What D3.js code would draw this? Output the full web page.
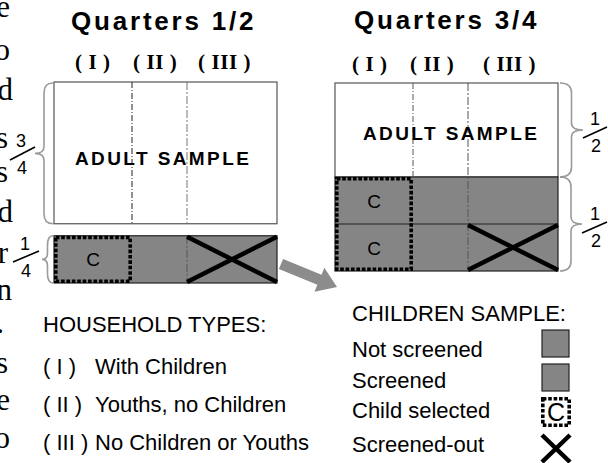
<!DOCTYPE html>
<html><head><meta charset="utf-8">
<script src="https://cdn.jsdelivr.net/npm/d3@7"></script>
<style>
html,body{margin:0;padding:0;background:#fff;}
svg{display:block;}
</style></head>
<body><svg id="c" width="608" height="463"></svg>
<script>
// ---------- data ----------
const titles = ["Quarters 1/2", "Quarters 3/4"];
const householdTypes = ["( I )", "( II )", "( III )"];
const colWeights = [78, 55, 90];                 // relative column widths (I, II, III)
const leftShares = [3/4, 1/4];                   // adult / children sample, quarters 1/2
const rightShares = [1/2, 1/2];                  // adult / children sample, quarters 3/4
const leftFractions = [["3","4"], ["1","4"]];
const rightFractions = [["1","2"], ["1","2"]];
const adultLabel = "ADULT SAMPLE";
const childMark = "C";
const householdTitle = "HOUSEHOLD TYPES:";
const householdLabels = ["With Children", "Youths, no Children", "No Children or Youths"];
const childrenTitle = "CHILDREN SAMPLE:";
const childrenLabels = ["Not screened", "Screened", "Child selected", "Screened-out"];
const marginLetters = ["e","o","d","s","s","d","r","n",".","s","e","o"];

// ---------- style ----------
const GRAY = "#858585", BRACE = "#9a9a9a";
const SANS = "'Liberation Sans', Arial, sans-serif";
const SERIF = "'Liberation Serif', 'Times New Roman', serif";
const svg = d3.select("#c");

// margin text fragments (clipped paragraph on the left, as in the reference)
const marginY = [17, 60, 100, 148, 182, 222, 263, 300, 333, 373, 410, 448];
const marginX = [10, 10, 13, 8, 8, 13, 8, 12, 4, 8, 10, 10];
svg.append("g").selectAll("text").data(marginLetters).join("text")
  .attr("x", (d,i)=>marginX[i]).attr("y", (d,i)=>marginY[i])
  .attr("text-anchor","end").attr("font-family",SERIF).attr("font-size",31).attr("fill","#000")
  .text(d=>d);

// ---------- helpers ----------
const total = d3.sum(colWeights);
const cum = [0]; colWeights.forEach(w=>cum.push(cum[cum.length-1]+w));

function brace(g, x, y0, y1, w, dir){
  const xs = x + dir*w*0.5, xt = x + dir*w, ym = (y0+y1)/2, r = Math.min(10,(y1-y0)/5);
  const p = d3.path();
  p.moveTo(x, y0);
  p.quadraticCurveTo(xs, y0, xs, y0+r);
  p.lineTo(xs, ym-r*0.7);
  p.quadraticCurveTo(xs, ym, xt, ym);
  p.quadraticCurveTo(xs, ym, xs, ym+r*0.7);
  p.lineTo(xs, y1-r);
  p.quadraticCurveTo(xs, y1, x, y1);
  g.append("path").attr("d", p.toString()).attr("fill","none").attr("stroke",BRACE).attr("stroke-width",1.6);
}
function fraction(g, f, cx, yNum, slash){
  g.append("text").attr("x",cx).attr("y",yNum).attr("text-anchor","middle")
    .attr("font-family",SANS).attr("font-size",18).text(f[0]);
  g.append("text").attr("x",cx+1).attr("y",yNum+27).attr("text-anchor","middle")
    .attr("font-family",SANS).attr("font-size",18).text(f[1]);
  g.append("line").attr("x1",slash[0]).attr("y1",slash[1]).attr("x2",slash[2]).attr("y2",slash[3])
    .attr("stroke","#000").attr("stroke-width",1.6);
}
function divider(g, x, y0, y1, col, dash){
  g.append("line").attr("x1",x).attr("x2",x).attr("y1",y0).attr("y2",y1)
    .attr("stroke",col).attr("stroke-width",1).attr("stroke-dasharray",dash);
}
function cross(g, x0, y0, x1, y1, sw){
  g.append("line").attr("x1",x0).attr("y1",y0).attr("x2",x1).attr("y2",y1).attr("stroke","#000").attr("stroke-width",sw);
  g.append("line").attr("x1",x0).attr("y1",y1).attr("x2",x1).attr("y2",y0).attr("stroke","#000").attr("stroke-width",sw);
}
function dashedBox(g, x0, y0, x1, y1){
  g.append("rect").attr("x",x0+1.8).attr("y",y0+1.8).attr("width",x1-x0-3.6).attr("height",y1-y0-3.6)
    .attr("fill","none").attr("stroke","#000").attr("stroke-width",3.6).attr("stroke-dasharray","3.6,1.8");
}
function titleAndTypes(g, title, tx, ty, typeX, typeY){
  g.append("text").attr("x",tx).attr("y",ty).attr("font-family",SANS).attr("font-weight","bold")
    .attr("font-size",26).attr("letter-spacing",2.8).attr("fill","#000").text(title);
  g.selectAll("text.ht").data(householdTypes).join("text").attr("class","ht")
    .attr("x",(d,i)=>typeX[i]).attr("y",typeY).attr("font-family",SERIF).attr("font-weight","bold")
    .attr("font-size",21).attr("letter-spacing",0.6).attr("fill","#000")
    .style("white-space","pre").text(d=>d);
}

// ---------- Quarters 1/2 ----------
{
  const g = svg.append("g");
  const x = d3.scaleLinear().domain([0,total]).range([54,277]);
  const y = d3.scaleLinear().domain([0,1]).range([82,271]);
  const gap = 12;
  titleAndTypes(g, titles[0], 71, 30, [75,133,198], 69);
  const aTop = y(0), aBot = y(leftShares[0]);
  const cTop = aBot + gap, cBot = y(leftShares[0]+leftShares[1]) + gap;
  g.append("rect").attr("x",x(0)).attr("y",aTop).attr("width",x(total)-x(0)).attr("height",aBot-aTop)
    .attr("fill","#fff").attr("stroke","#555").attr("stroke-width",1.2);
  divider(g, x(cum[1]), aTop, aBot, "#222", "6,2,1,2");
  divider(g, x(cum[2]), aTop, aBot, "#777", "8,2,2,2");
  g.append("text").attr("x",75).attr("y",165).attr("font-family",SANS).attr("font-weight","bold")
    .attr("font-size",19).attr("letter-spacing",2.4).attr("fill","#000").text(adultLabel);
  g.append("rect").attr("x",x(0)).attr("y",cTop).attr("width",x(total)-x(0)).attr("height",cBot-cTop)
    .attr("fill",GRAY).attr("stroke","#222").attr("stroke-width",1.2);
  divider(g, x(cum[2]), cTop, cBot, "#555", "8,2,2,2");
  dashedBox(g, x(cum[0]), cTop, x(cum[1]), cBot);
  g.append("text").attr("x",(x(cum[0])+x(cum[1]))/2).attr("y",(cTop+cBot)/2+7).attr("text-anchor","middle")
    .attr("font-family",SANS).attr("font-size",19).attr("fill","#000").text(childMark);
  cross(g, x(cum[2]), cTop+1, x(cum[3]), cBot-1, 4.5);
  brace(g, 53, aTop+1, aBot, 18, -1);
  brace(g, 53, cTop, cBot, 11, -1);
  fraction(g, leftFractions[0], 21, 147, [10,160,35,147]);
  fraction(g, leftFractions[1], 25, 250, [13,262,39,251]);
}

// ---------- Quarters 3/4 ----------
{
  const g = svg.append("g");
  const x = d3.scaleLinear().domain([0,total]).range([335,558]);
  const y = d3.scaleLinear().domain([0,1]).range([83,271]);
  titleAndTypes(g, titles[1], 354, 29, [352,410,483], 71);
  const aTop = y(0), aBot = y(rightShares[0]), cBot = y(rightShares[0]+rightShares[1]);
  const cMid = (aBot+cBot)/2;
  g.append("rect").attr("x",x(0)).attr("y",aTop).attr("width",x(total)-x(0)).attr("height",aBot-aTop)
    .attr("fill","#fff").attr("stroke","#555").attr("stroke-width",1.2);
  g.append("rect").attr("x",x(0)).attr("y",aBot).attr("width",x(total)-x(0)).attr("height",cBot-aBot)
    .attr("fill",GRAY).attr("stroke","#222").attr("stroke-width",1.2);
  g.append("line").attr("x1",x(0)).attr("x2",x(total)).attr("y1",cMid).attr("y2",cMid)
    .attr("stroke","#222").attr("stroke-width",1.2);
  divider(g, x(cum[1]), aTop, aBot, "#555", "6,2,1,2");
  divider(g, x(cum[2]), aTop, cBot, "#555", "8,2,2,2");
  g.append("text").attr("x",363).attr("y",140).attr("font-family",SANS).attr("font-weight","bold")
    .attr("font-size",19).attr("letter-spacing",2.4).attr("fill","#000").text(adultLabel);
  dashedBox(g, x(cum[0]), aBot, x(cum[1]), cBot);
  [ (aBot+cMid)/2, (cMid+cBot)/2 ].forEach(cy=>{
    g.append("text").attr("x",(x(cum[0])+x(cum[1]))/2).attr("y",cy+7).attr("text-anchor","middle")
      .attr("font-family",SANS).attr("font-size",19).attr("fill","#000").text(childMark);
  });
  cross(g, x(cum[2]), cMid+1, x(cum[3]), cBot-1, 4.5);
  brace(g, 560, aTop, aBot, 23, 1);
  brace(g, 560, aBot, cBot, 22, 1);
  fraction(g, rightFractions[0], 595, 125, [583,138,607,127]);
  fraction(g, rightFractions[1], 595, 220, [582,233,607,222]);
}

// ---------- arrow ----------
{
  const s = [281, 264], e = [337, 287];
  const ang = Math.atan2(e[1]-s[1], e[0]-s[0]);
  const L = Math.hypot(e[0]-s[0], e[1]-s[1]);
  const sw = 5.5, hl = 19, hw = 13;
  const pts = [[0,-sw],[L-hl,-sw],[L-hl,-hw],[L,0],[L-hl,hw],[L-hl,sw],[0,sw]].map(([u,v])=>[
    s[0]+u*Math.cos(ang)-v*Math.sin(ang), s[1]+u*Math.sin(ang)+v*Math.cos(ang)]);
  svg.append("path").attr("d", d3.line()(pts)+"Z").attr("fill","#8c8c8c");
}

// ---------- legends ----------
{
  const g = svg.append("g").attr("font-family",SANS).attr("font-size",22).attr("fill","#000");
  g.append("text").attr("x",43).attr("y",332).text(householdTitle);
  const ly = [374, 412, 450];
  g.selectAll("text.n").data(householdTypes).join("text").attr("class","n")
    .attr("x",43).attr("y",(d,i)=>ly[i]).style("white-space","pre").text(d=>d);
  g.selectAll("text.l").data(householdLabels).join("text").attr("class","l")
    .attr("x",95).attr("y",(d,i)=>ly[i]).text(d=>d);

  g.append("text").attr("x",352).attr("y",321).text(childrenTitle);
  const ry = [357, 388, 418, 452];
  g.selectAll("text.c").data(childrenLabels).join("text").attr("class","c")
    .attr("x",352).attr("y",(d,i)=>ry[i]).text(d=>d);
  const sx = 542, sz = 27;
  [330, 364].forEach(yy=>{
    g.append("rect").attr("x",sx).attr("y",yy).attr("width",sz).attr("height",sz)
      .attr("fill",GRAY).attr("stroke","#222").attr("stroke-width",1.2);
  });
  dashedBox(g, 541, 397, 571, 427);
  g.append("text").attr("x",556).attr("y",421).attr("text-anchor","middle").attr("font-size",25).text(childMark);
  cross(g, 542, 435, 570, 462, 4.5);
}
</script></body></html>
